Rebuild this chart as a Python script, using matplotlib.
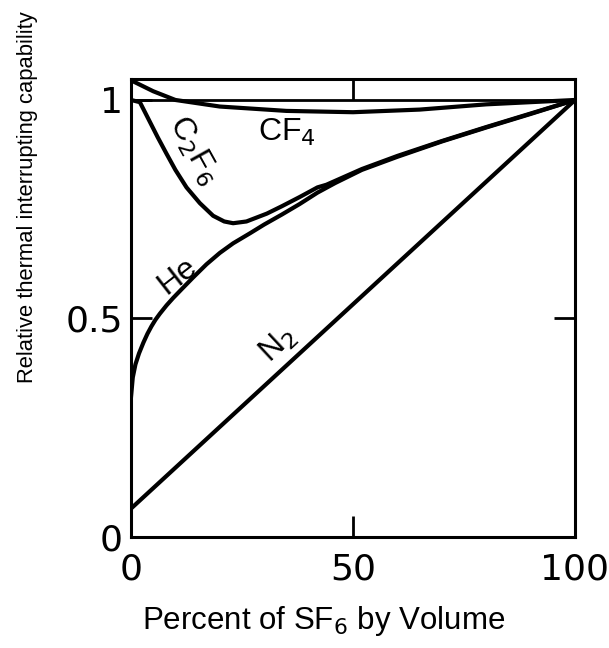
import matplotlib
matplotlib.use('Agg')
import matplotlib.pyplot as plt

# ---- data ----
he_x = [0, 0.4, 1, 1.8, 2.8, 3.7, 4.6, 5.5, 6.5, 8, 9.5, 11.5, 14, 17, 20, 23, 26.8, 30, 34, 38,
        42, 46, 52, 60, 70, 80, 90, 100]
he_y = [0.32, 0.365, 0.395, 0.42, 0.445, 0.465, 0.482, 0.497, 0.511, 0.53, 0.547, 0.568, 0.594,
        0.624, 0.65, 0.672, 0.695, 0.715, 0.738, 0.762, 0.788, 0.81, 0.84, 0.87, 0.905, 0.937,
        0.968, 1.0]

c2f6_x = [0, 2, 4, 6, 8, 10, 12.5, 15.5, 18.5, 21, 23, 26, 30.6, 34, 38, 42, 44, 52, 60, 70, 80, 90, 100]
c2f6_y = [1.0, 0.995, 0.955, 0.915, 0.877, 0.84, 0.80, 0.764, 0.735, 0.722, 0.718, 0.722, 0.74, 0.757,
          0.778, 0.80, 0.806, 0.842, 0.872, 0.906, 0.938, 0.969, 1.0]

cf4_x = [0, 5, 10, 20, 35, 50, 65, 80, 100]
cf4_y = [1.045, 1.02, 1.0, 0.985, 0.975, 0.972, 0.978, 0.99, 1.0]

n2_x = [0, 100]
n2_y = [0.065, 1.0]

ref_x = [0, 100]
ref_y = [1.0, 1.0]

x_ticks = [0, 50, 100]
x_ticklabels = ['0', '50', '100']
y_ticks = [0, 0.5, 1]
y_ticklabels = ['0', '0.5', '1']

# ---- figure ----
fig = plt.figure(figsize=(6.09, 6.48), dpi=100)
ax = fig.add_axes([131 / 609, 111 / 648, 444 / 609, 458 / 648])

lw = 3.0
ax.plot(ref_x, ref_y, color='black', lw=2.0, solid_capstyle='butt')
ax.plot(n2_x, n2_y, color='black', lw=lw, solid_capstyle='butt')
ax.plot(he_x, he_y, color='black', lw=lw, solid_joinstyle='round')
ax.plot(c2f6_x, c2f6_y, color='black', lw=lw, solid_joinstyle='round')
ax.plot(cf4_x, cf4_y, color='black', lw=lw, solid_joinstyle='round')

ax.set_xlim(0, 100)
ax.set_ylim(0, 1.048)

for s in ax.spines.values():
    s.set_linewidth(2.2)

ax.set_xticks(x_ticks)
ax.set_xticklabels(x_ticklabels)
ax.set_yticks(y_ticks)
ax.set_yticklabels(y_ticklabels)
ax.tick_params(axis='both', direction='in', length=15, width=2.0,
               top=True, right=True, labelsize=26)
ax.tick_params(axis='x', pad=11)
ax.tick_params(axis='y', pad=6)

# curve labels
lab_fs = 23
ax.text(35.1, 0.925, 'CF$_4$', fontsize=lab_fs, ha='center', va='center',
        family='Liberation Sans')
ax.text(14.0, 0.884, 'C$_2$F$_6$', fontsize=lab_fs, ha='center', va='center',
        rotation=-61, family='Liberation Sans')
ax.text(10.4, 0.597, 'He', fontsize=lab_fs, ha='center', va='center',
        rotation=38, family='Liberation Sans')
ax.text(33.0, 0.44, 'N$_2$', fontsize=lab_fs, ha='center', va='center',
        rotation=43, family='Liberation Sans')

# axis labels
fig.text(324 / 609, 1 - 621 / 648, 'Percent of SF$_6$ by Volume', fontsize=22.5,
         ha='center', va='center', family='Liberation Sans')
fig.text(28 / 609, 1 - 197 / 648, 'Relative thermal interrupting capability', fontsize=15.8,
         ha='center', va='center', rotation=90, family='Liberation Sans')

fig.savefig('out.png', dpi=100)
